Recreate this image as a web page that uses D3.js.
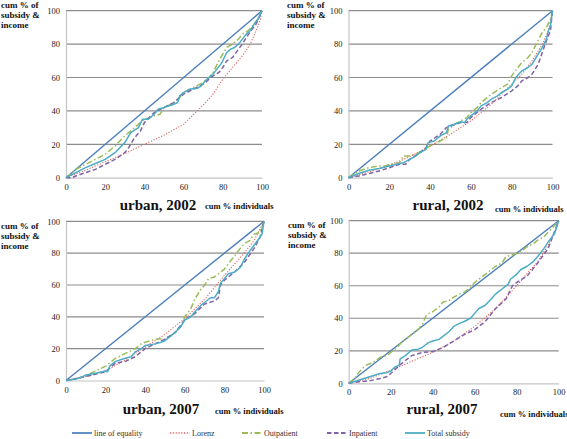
<!DOCTYPE html>
<html><head><meta charset="utf-8">
<script src="https://cdn.jsdelivr.net/npm/d3@7"></script>
<style>body{margin:0;background:#fff}svg{display:block}</style>
</head><body>
<svg id="c" width="567" height="439"></svg>
<script>
// ---------- data ----------
const seriesNames = ["line of equality","Lorenz","Outpatient","Inpatient","Total subsidy"];
const xTicks = [0,20,40,60,80,100];
const yTicks = [0,20,40,60,80,100];
const panelTitles = ["urban, 2002","rural, 2002","urban, 2007","rural, 2007"];

const equality = [[0,0],[100,100]];

// urban 2002
const u02Lorenz = [[0,0],[10,4.5],[20,9.5],[30,14.5],[40,20],[50,25.5],[60,32],[67,40],[70,43.5],[75,50],[80,59],[85,66],[90,73],[94,80],[97,88],[99,94],[100,100]];
const u02Out = [[0,0],[5,5],[10,8],[15,11],[20,14],[25,19],[30,25],[35,30],[38,33],[40,35],[43,36],[45,37],[48,38],[50,42],[55,45],[58,48],[60,51],[65,54],[70,57],[73,60],[75,63],[78,70],[80,74],[82,78],[85,80],[88,83],[90,86],[93,88],[96,92],[98,95],[100,100]];
const u02In = [[0,0],[3,0],[5,1],[10,3],[15,5],[20,8],[25,11],[30,15],[32,18],[35,24],[38,28],[40,33],[45,39],[50,42],[55,45],[60,50],[65,53],[70,56],[73,59],[75,61],[78,63],[80,66],[82,70],[85,72],[88,77],[90,80],[92,84],[95,89],[97,92],[100,100]];
const u02Tot = [[0,0],[5,3],[10,6],[15,8.5],[20,11],[25,15],[30,21],[33,27],[37,30],[39,35],[42,35],[45,38],[47,41],[50,42],[55,44],[57,45],[58,49],[60,51],[63,53],[67,53.5],[69,55],[71,58],[73,60],[75,62],[77,65],[79,68],[80,70],[82,75],[84,77],[86,78],[88,80],[90,83],[92,86],[94,88],[96,92],[98,95],[100,100]];

// rural 2002
const r02Lorenz = [[0,0],[10,3.5],[20,7.5],[30,12.5],[40,19],[50,26],[60,34],[70,44],[80,56],[85,62],[90,70],[95,80],[98,88],[100,100]];
const r02Out = [[0,0],[5,4],[10,6],[15,7],[18,7],[20,8],[25,9],[27,13],[30,13],[35,15],[40,19],[45,22],[48,24],[49,29],[52,32],[55,34],[58,36],[60,39],[63,42],[65,45],[70,50],[75,54],[78,56],[80,61],[83,66],[85,69],[88,72],[90,75],[92,80],[95,87],[97,90],[99,95],[100,100]];
const r02In = [[0,0],[5,1],[10,2.5],[15,4],[20,6],[25,8],[28,8],[30,11],[35,15],[38,18],[40,22],[45,26],[48,30],[50,31],[55,33],[58,33],[60,36],[65,41],[70,45],[75,48],[80,52],[83,55],[85,58],[88,60],[90,62],[93,68],[95,75],[97,82],[99,88],[100,100]];
const r02Tot = [[0,0],[5,2.5],[10,4.5],[15,5.5],[20,7],[25,8.5],[27,9],[30,11],[33,13],[35,15],[38,17],[39,21],[42,22],[45,25],[48,27],[49,31],[52,32],[55,33.5],[57,33],[58,35],[60,37],[63,40],[65,43],[68,45],[70,47],[73,49],[75,51],[78,53],[80,55],[82,60],[85,64],[88,66],[90,68],[92,72],[95,78],[97,83],[98,88],[99,91],[100,100]];

// urban 2007
const u07Lorenz = [[0,0],[10,2.5],[20,6],[30,13],[40,21],[50,29],[60,39],[70,51],[80,66],[90,80],[95,88],[100,100]];
const u07Out = [[0,0],[5,1],[10,3],[15,6],[20,9],[25,14],[30,17],[35,20],[38,23],[40,24],[45,26],[50,26],[55,30],[58,34],[60,40],[63,45],[65,51],[68,57],[70,60],[72,64],[75,65],[78,68],[80,70],[83,75],[85,78],[88,83],[90,86],[93,88],[95,92],[98,93],[100,100]];
const u07In = [[0,0],[10,2.5],[20,5.5],[25,11],[30,12],[35,15],[40,20],[45,23],[50,26],[55,30],[60,38],[65,42],[70,48],[75,50],[77,52],[78,60],[80,63],[85,68],[90,74],[95,83],[98,90],[100,100]];
const u07Tot = [[0,0],[5,1],[8,2],[10,3.5],[15,4.5],[20,6],[21,5.5],[22,9],[25,12],[30,14],[33,15],[35,18],[38,20],[40,22],[45,23],[48,24],[50,25],[53,28],[55,30],[58,34],[60,38],[63,40],[65,43],[68,47],[70,49],[73,52],[75,52],[77,56],[78,61],[80,64],[82,67],[85,68],[88,71],[90,76],[92,80],[95,85],[98,90],[99,92],[100,100]];

// rural 2007
const r07Lorenz = [[0,0],[10,3],[20,8],[30,13.5],[40,19],[50,26],[60,35],[70,46],[80,60],[90,75],[95,85],[98,93],[100,100]];
const r07Out = [[0,0],[3,3],[5,7],[8,11],[10,12],[13,14],[15,16],[18,17],[20,19],[23,22],[25,25],[28,28],[30,30],[33,33],[35,36],[37,42],[40,44],[43,47],[45,50],[48,51],[50,53],[53,55],[55,56],[58,59],[60,62],[63,65],[65,67],[68,70],[70,72],[73,74],[75,78],[78,79],[80,80],[83,82],[85,84],[88,86],[90,88],[93,90],[95,93],[98,97],[100,100]];
const r07In = [[0,0],[5,1],[10,1.5],[15,3],[18,4],[20,6],[25,12],[28,15],[30,17],[35,19],[40,19.5],[45,22],[50,26],[55,30],[60,33],[65,38],[70,46],[75,52],[78,60],[80,62],[85,66],[90,74],[95,83],[100,100]];
const r07Tot = [[0,0],[5,2],[10,4],[15,6],[18,6.5],[20,7.5],[22,10],[24,11],[24.5,15],[27,17],[30,20.5],[33,21],[35,22],[38,25],[40,26],[43,27],[45,29],[48,32],[50,35],[53,37],[55,38],[58,40],[60,43],[62,46],[65,48],[68,52],[70,55],[73,58],[76,61],[77,64],[80,67],[82,70],[85,72],[88,75],[90,78],[93,83],[95,87],[98,92],[100,100]];

// ---------- styles ----------
const styles = [
  {color:"#4a7ebb", dash:null, w:1.4},
  {color:"#e2625c", dash:"1.2,1.6", w:1.1},
  {color:"#9bbb59", dash:"6,2.5,1.5,2.5", w:1.5},
  {color:"#7f62a8", dash:"4.5,2.5", w:1.5},
  {color:"#4bacc6", dash:null, w:1.5}
];

const panels = [
  {title:0, data:[equality,u02Lorenz,u02Out,u02In,u02Tot], x0:66, x1:262, y0:177.7, y1:10.7,
   ylab:[1,8], titleX:158, titleY:210, indX:205, indY:209},
  {title:1, data:[equality,r02Lorenz,r02Out,r02In,r02Tot], x0:348.5, x1:552.5, y0:177.7, y1:10.7,
   ylab:[287,8], titleX:448, titleY:210, indX:495, indY:212},
  {title:2, data:[equality,u07Lorenz,u07Out,u07In,u07Tot], x0:66, x1:264, y0:380.5, y1:221.3,
   ylab:[1,229], titleX:161, titleY:414, indX:215, indY:414},
  {title:3, data:[equality,r07Lorenz,r07Out,r07In,r07Tot], x0:348.7, x1:558.7, y0:383.3, y1:220.7,
   ylab:[288,228], titleX:442, titleY:414, indX:500, indY:417}
];

const svg = d3.select("#c");
const serif = "'Liberation Serif','Times New Roman',serif";

panels.forEach(p => {
  const x = d3.scaleLinear().domain([0,100]).range([p.x0,p.x1]);
  const y = d3.scaleLinear().domain([0,100]).range([p.y0,p.y1]);
  const g = svg.append("g");
  // gridlines
  g.selectAll("line.grid").data(yTicks.filter(d=>d>0)).join("line")
    .attr("x1",p.x0).attr("x2",p.x1).attr("y1",d=>y(d)).attr("y2",d=>y(d))
    .attr("stroke","#8c8c8c").attr("stroke-width",1.2);
  // axes
  const ya = g.append("g").attr("transform",`translate(${p.x0},0)`)
    .call(d3.axisLeft(y).tickValues(yTicks).tickSize(0).tickPadding(6));
  const xa = g.append("g").attr("transform",`translate(0,${p.y0})`)
    .call(d3.axisBottom(x).tickValues(xTicks).tickSize(0).tickPadding(6));
  [ya,xa].forEach(a=>{
    a.select(".domain").attr("stroke","#c4c4c4").attr("stroke-width",1.2);
    a.selectAll("text").attr("font-family",serif).attr("font-size","8.5px").attr("fill","#222");
  });
  // series
  const line = d3.line().x(d=>x(d[0])).y(d=>y(d[1]));
  p.data.forEach((ds,i)=>{
    const s = styles[i];
    g.append("path").datum(ds).attr("d",line).attr("fill","none")
      .attr("stroke",s.color).attr("stroke-width",s.w)
      .attr("stroke-dasharray",s.dash).attr("stroke-linejoin","round");
  });
  // y label
  const yl = g.append("text").attr("x",p.ylab[0]).attr("y",p.ylab[1])
    .attr("font-family",serif).attr("font-size","9px").attr("font-weight","bold").attr("fill","#111");
  ["cum % of","subsidy &","income"].forEach((t,i)=>{
    yl.append("tspan").attr("x",p.ylab[0]).attr("dy", i===0?0:10).text(t);
  });
  // title
  g.append("text").attr("x",p.titleX).attr("y",p.titleY).attr("text-anchor","middle")
    .attr("font-family",serif).attr("font-size","15px").attr("font-weight","bold").attr("fill","#111")
    .text(panelTitles[p.title]);
  g.append("text").attr("x",p.indX).attr("y",p.indY)
    .attr("font-family",serif).attr("font-size","8.5px").attr("font-weight","bold").attr("fill","#111")
    .text("cum % individuals");
});

// legend
const legX = [72,170,242,327,405];
const lg = svg.append("g");
seriesNames.forEach((n,i)=>{
  const s = styles[i];
  lg.append("line").attr("x1",legX[i]).attr("x2",legX[i]+20).attr("y1",433).attr("y2",433)
    .attr("stroke",s.color).attr("stroke-width",s.w+0.3).attr("stroke-dasharray",s.dash);
  lg.append("text").attr("x",legX[i]+22).attr("y",436)
    .attr("font-family",serif).attr("font-size","8px").attr("fill","#333").text(n);
});
</script>
</body></html>
